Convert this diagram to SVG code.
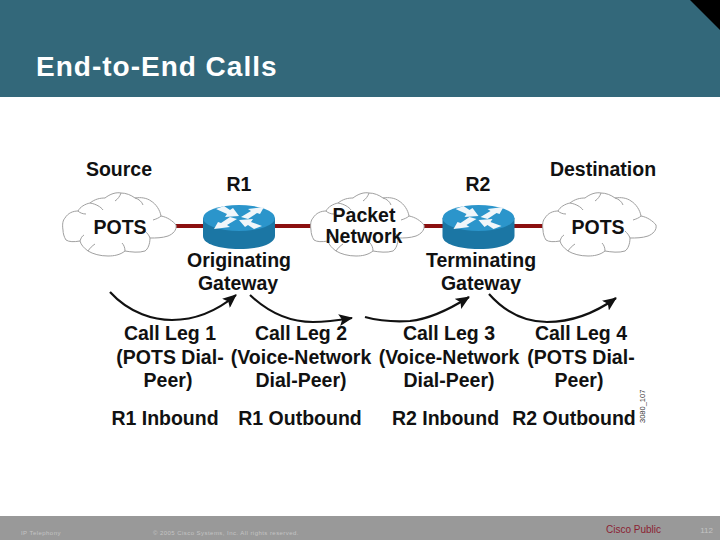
<svg xmlns="http://www.w3.org/2000/svg" width="720" height="540" viewBox="0 0 720 540">
<style>
text{font-family:"Liberation Sans",Arial,sans-serif}
.b{font-weight:700;font-size:19.5px;fill:#111;text-anchor:middle}
.cl{fill:#fff;stroke:#a0a0a0;stroke-width:1}
.cd{fill:none;stroke:#a0a0a0;stroke-width:1}
.lk{stroke:#8b0f0f;stroke-width:4;fill:none}
.ar{fill:none;stroke:#111;stroke-width:2.2}
.ft{font-size:6px;fill:#c4c4c4;letter-spacing:.45px}
</style>
<defs>
<marker id="ah" viewBox="0 0 14 12" refX="13" refY="6" markerWidth="14" markerHeight="12" markerUnits="userSpaceOnUse" orient="auto"><path d="M0 0L14 6L0 12L3 6Z" fill="#111"/></marker>
<g id="cloud">
<path class="cl" d="M0 37C-1 31 0 27 2 25C5 20 10 18 15 18C17 14 22 11 27 10C32 6 37 5 42 5C47 1 53 -1 58 0C63 0 68 2 72 5C78 4 84 5 88 8C93 11 97 17 98 23C104 24 110 28 113 32C114 37 110 41 105 43C99 45 93 45 87 45C87 51 85 56 82 58C76 60 68 59 62 58C57 62 51 63 45 63C37 63 30 61 25 58C21 55 18 52 17 48C11 49 6 49 3 47C1 44 0 40 0 37Z"/>
<path class="cd" d="M15 18C17 20 20 21 23 21M27 10C33 11 38 14 40 17M58 0C57 3 55 6 52 8M72 5C76 6 79 9 80 12M98 23C96 25 93 26 90 27M87 45C86 42 84 40 82 38M62 58C62 55 61 52 59 50M25 58C27 55 29 53 32 51M17 48C18 45 19 43 21 42"/>
</g>
<g id="router">
<path d="M-36 0V18C-36 26 -20 31 0 31C20 31 36 26 36 18V0Z" fill="#1b76a4"/>
<ellipse cx="0" cy="0" rx="36" ry="13" fill="#2b95cb"/>
<path d="M-23 -9L-15 -12L-9 -8L-6 -10L0 -2L-14 -1L-12 -4ZM23 8L15 11L9 7L6 9L0 2L14 1L12 4ZM2 -1L12 -7L9 -9L25 -11L21 -4L18 -5L9 1ZM-2 1L-12 7L-9 9L-25 11L-21 4L-18 5L-9 -1Z" fill="#f0f6fa"/>
</g>
</defs>
<rect width="720" height="540" fill="#fff"/>
<rect width="720" height="97" fill="#33687a"/>
<path d="M690 0H720V30Z" fill="#000"/>
<text x="36" y="76" font-size="28" font-weight="700" letter-spacing="1" fill="#fff">End-to-End Calls</text>
<rect y="516" width="720" height="24" fill="#999"/>
<text class="ft" x="21" y="535">IP Telephony</text>
<text class="ft" x="153" y="535">© 2005 Cisco Systems, Inc. All rights reserved.</text>
<text x="606" y="533" font-size="10" fill="#8b2232">Cisco Public</text>
<text class="ft" x="713" y="533" text-anchor="end" style="font-size:8px;letter-spacing:0">112</text>
<g id="connectors">
<path class="lk" d="M175 226H205"/>
<path class="lk" d="M273 226H312"/>
<path class="lk" d="M422 226H445"/>
<path class="lk" d="M512 226H545"/>
<path class="ar" marker-end="url(#ah)" d="M110 292C130 314 155 320 172 320C198 320 218 310 236 295"/>
<path class="ar" marker-end="url(#ah)" d="M250 295C268 312 290 322 313 322C328 322 340 320 352 318"/>
<path class="ar" marker-end="url(#ah)" d="M365 317C380 321 395 322 410 321C430 319 450 309 469 297"/>
<path class="ar" marker-end="url(#ah)" d="M489 294C505 312 525 322 547 322C572 322 595 313 616 298"/>
</g>
<g id="pots-source"><use href="#cloud" x="63" y="193"/><text class="b" x="120" y="234">POTS</text></g>
<g id="packet-network"><use href="#cloud" x="311" y="193"/><text class="b" x="364" y="222">Packet</text><text class="b" x="364" y="243">Network</text></g>
<g id="pots-destination"><use href="#cloud" x="543" y="193"/><text class="b" x="598" y="234">POTS</text></g>
<g id="r1"><use href="#router" x="239" y="218"/><text class="b" x="239" y="191">R1</text><text class="b" x="239" y="266.500">Originating</text><text class="b" x="238" y="289.500">Gateway</text></g>
<g id="r2"><use href="#router" x="478.500" y="218"/><text class="b" x="478" y="191">R2</text><text class="b" x="481" y="266.500">Terminating</text><text class="b" x="481" y="289.500">Gateway</text></g>
<text class="b" x="119" y="176">Source</text>
<text class="b" x="603" y="176">Destination</text>
<g id="leg1"><text class="b" x="170" y="339.500">Call Leg 1</text><text class="b" x="170" y="363.500">(POTS Dial-</text><text class="b" x="168" y="386.500">Peer)</text></g>
<g id="leg2"><text class="b" x="301" y="339.500">Call Leg 2</text><text class="b" x="301" y="363.500">(Voice-Network</text><text class="b" x="301" y="386.500">Dial-Peer)</text></g>
<g id="leg3"><text class="b" x="449" y="339.500">Call Leg 3</text><text class="b" x="449" y="363.500">(Voice-Network</text><text class="b" x="449" y="386.500">Dial-Peer)</text></g>
<g id="leg4"><text class="b" x="581" y="339.500">Call Leg 4</text><text class="b" x="581" y="363.500">(POTS Dial-</text><text class="b" x="579" y="386.500">Peer)</text></g>
<text class="b" x="165" y="424.500">R1 Inbound</text>
<text class="b" x="300" y="424.500">R1 Outbound</text>
<text class="b" x="445.500" y="424.500">R2 Inbound</text>
<text class="b" x="574" y="424.500">R2 Outbound</text>
<text x="645" y="423" font-size="7.500" fill="#333" transform="rotate(-90 645 423)">3080_107</text>
</svg>
